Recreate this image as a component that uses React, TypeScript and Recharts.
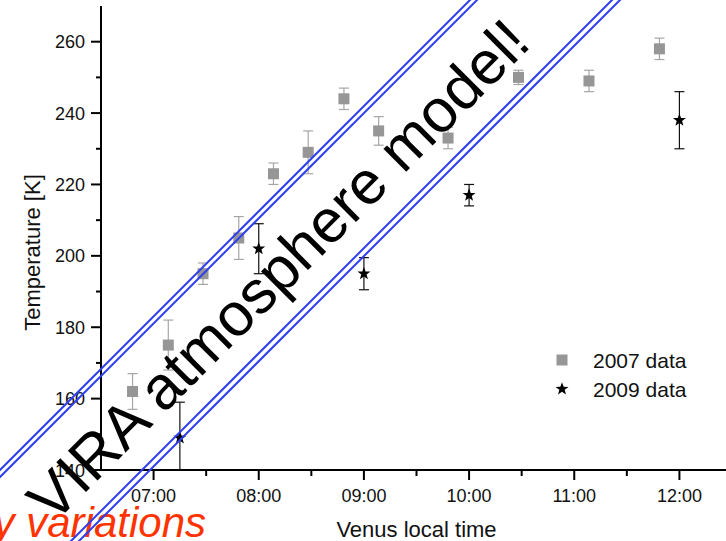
import React from 'react';
import { ScatterChart, Scatter, XAxis, YAxis, ErrorBar, Legend, Label } from 'recharts';

const times2007 = [6.8, 7.14, 7.47, 7.81, 8.14, 8.47, 8.81, 9.14, 9.8, 10.47, 11.14, 11.81];
const temps2007 = [162, 175, 195, 205, 223, 229, 244, 235, 233, 250, 249, 258];
const errs2007 = [5, 7, 3, 6, 3, 6, 3, 4, 3, 2, 3, 3];

const times2009 = [7.25, 8.0, 9.0, 10.0, 12.0];
const temps2009 = [149, 202, 195, 217, 238];
const errs2009 = [[9, 10], [7, 7], [4.5, 4.5], [3, 3], [8, 8]];

const xTicks = [7, 7.5, 8, 8.5, 9, 9.5, 10, 10.5, 11, 11.5, 12];
const yTicks = [140, 150, 160, 170, 180, 190, 200, 210, 220, 230, 240, 250, 260];
const seriesNames = ['2007 data', '2009 data'];
const xTitle = 'Venus local time';
const yTitle = 'Temperature [K]';
const stampText = 'VIRA atmosphere model!';
const redText = 'y variations';

const data2007 = times2007.map((t, i) => ({ t, temp: temps2007[i], err: errs2007[i] }));
const data2009 = times2009.map((t, i) => ({ t, temp: temps2009[i], err: errs2009[i] }));

const FONT = '"Liberation Sans", Arial, Helvetica, sans-serif';

const fmtTime = (h: number) => `${String(Math.floor(h)).padStart(2, '0')}:00`;

const XTick = (props: any) => {
  const { x, y, payload } = props;
  const v = payload.value as number;
  const major = Number.isInteger(v);
  return (
    <g>
      <line x1={x} x2={x} y1={y} y2={y + (major ? 10 : 6)} stroke="#000" strokeWidth={2} />
      {major && (
        <text x={x} y={y + 31.5} textAnchor="middle" fontSize={18} fontFamily={FONT} fill="#111">
          {fmtTime(v)}
        </text>
      )}
    </g>
  );
};

const YTick = (props: any) => {
  const { x, y, payload } = props;
  const v = payload.value as number;
  const major = v % 20 === 0;
  return (
    <g>
      <line x1={x} x2={x - (major ? 10 : 5)} y1={y} y2={y} stroke="#000" strokeWidth={2} />
      {major && (
        <text x={x - 16} y={y + 6.5} textAnchor="end" fontSize={18} fontFamily={FONT} fill="#111">
          {v}
        </text>
      )}
    </g>
  );
};

const starPath = (cx: number, cy: number, ro: number, ri: number) => {
  const pts: string[] = [];
  for (let i = 0; i < 10; i++) {
    const a = (-90 + i * 36) * (Math.PI / 180);
    const r = i % 2 === 0 ? ro : ri;
    pts.push(`${(cx + r * Math.cos(a)).toFixed(2)},${(cy + r * Math.sin(a)).toFixed(2)}`);
  }
  return `M${pts.join('L')}Z`;
};

const SquareShape = (p: any) => (
  <rect x={p.cx - 5.5} y={p.cy - 5.5} width={11} height={11} fill="#969696" />
);

const StarShape = (p: any) => <path d={starPath(p.cx, p.cy, 6.8, 2.8)} fill="#000" />;

const LegendContent = (props: any) => {
  const payload = props.payload || [];
  return (
    <div style={{ fontFamily: FONT, fontSize: 21, color: '#111' }}>
      {payload.map((entry: any, i: number) => (
        <div key={i} style={{ display: 'flex', alignItems: 'center', height: 29 }}>
          <svg width={20} height={20} style={{ display: 'block' }}>
            {i === 0 ? (
              <rect x={4.5} y={4.5} width={11} height={11} fill="#969696" />
            ) : (
              <path d={starPath(10, 10, 6.8, 2.8)} fill="#000" />
            )}
          </svg>
          <span style={{ marginLeft: 21, lineHeight: '29px', whiteSpace: 'nowrap' }}>{entry.value}</span>
        </div>
      ))}
    </div>
  );
};

const stripeLines = [470, 477, 612, 620];

export default function App() {
  return (
    <div
      style={{
        position: 'absolute',
        left: 0,
        top: 0,
        width: 726,
        height: 541,
        overflow: 'hidden',
        background: '#fff',
      }}
    >
      <ScatterChart width={760} height={541} margin={{ top: 6, right: 28, bottom: 0, left: 0 }}>
        <XAxis
          xAxisId="top"
          orientation="top"
          type="number"
          dataKey="t"
          domain={[6.5, 12.5]}
          height={0}
          tick={false}
          tickLine={false}
          axisLine={{ stroke: '#000', strokeWidth: 2 }}
        />
        <XAxis
          type="number"
          dataKey="t"
          domain={[6.5, 12.5]}
          ticks={xTicks}
          interval={0}
          height={71}
          tickSize={0}
          tickMargin={0}
          tickLine={false}
          tick={<XTick />}
          axisLine={{ stroke: '#000', strokeWidth: 2 }}
          allowDataOverflow
        >
          <Label
            content={(p: any) => {
              const vb = p.viewBox || {};
              return (
                <text
                  x={(vb.x ?? 101) + (vb.width ?? 631) / 2}
                  y={536.5}
                  textAnchor="middle"
                  fontSize={22}
                  fontFamily={FONT}
                  fill="#111"
                >
                  {xTitle}
                </text>
              );
            }}
          />
        </XAxis>
        <YAxis
          type="number"
          dataKey="temp"
          domain={[140, 270]}
          ticks={yTicks}
          interval={0}
          width={101}
          tickSize={0}
          tickMargin={0}
          tickLine={false}
          tick={<YTick />}
          axisLine={{ stroke: '#000', strokeWidth: 2 }}
          allowDataOverflow
        >
          <Label
            content={() => (
              <text
                x={0}
                y={0}
                transform="translate(39.5 252.5) rotate(-90)"
                textAnchor="middle"
                fontSize={22}
                fontFamily={FONT}
                fill="#111"
              >
                {yTitle}
              </text>
            )}
          />
        </YAxis>
        <Legend
          layout="vertical"
          verticalAlign="middle"
          align="center"
          content={<LegendContent />}
          wrapperStyle={{ position: 'absolute', left: 552, top: 345.5, width: 'auto', height: 'auto' }}
        />
        <Scatter
          name={seriesNames[0]}
          data={data2007}
          shape={SquareShape}
          fill="#969696"
          isAnimationActive={false}
        >
          <ErrorBar dataKey="err" direction="y" width={5} stroke="#a6a6a6" strokeWidth={1.2} />
        </Scatter>
        <Scatter
          name={seriesNames[1]}
          data={data2009}
          shape={StarShape}
          fill="#000"
          isAnimationActive={false}
        >
          <ErrorBar dataKey="err" direction="y" width={5} stroke="#111" strokeWidth={1.2} />
        </Scatter>
      </ScatterChart>
      <svg
        width={726}
        height={541}
        style={{ position: 'absolute', left: 0, top: 0, pointerEvents: 'none' }}
      >
        <text
          x={206}
          y={537}
          textAnchor="end"
          fontSize={42}
          fontStyle="italic"
          fontFamily={FONT}
          fill="#ff3300"
        >
          {redText}
        </text>
        {stripeLines.map((c) => (
          <line key={c} x1={c + 80} y1={-80} x2={-80} y2={c + 80} stroke="#2f3ff0" strokeWidth={2} />
        ))}
        <text
          x={293}
          y={285}
          transform="rotate(-45 293 285)"
          textAnchor="middle"
          fontSize={61}
          fontFamily={FONT}
          fill="#000"
        >
          {stampText}
        </text>
      </svg>
    </div>
  );
}
